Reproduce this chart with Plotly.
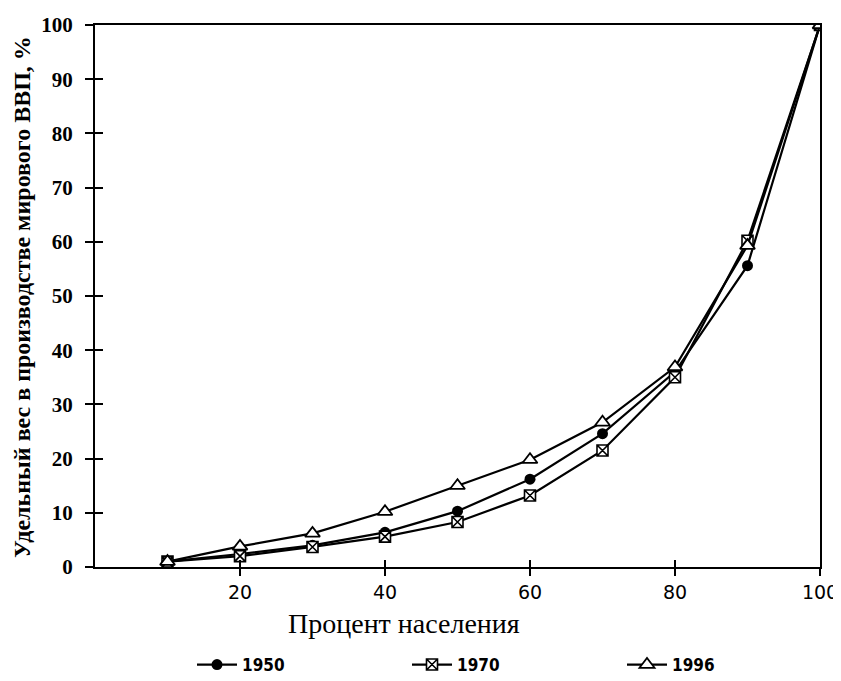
import plotly.graph_objects as go

x_pct = [10, 20, 30, 40, 50, 60, 70, 80, 90, 100]
y1950 = [1.0, 2.4, 4.0, 6.4, 10.3, 16.2, 24.6, 36.0, 55.6, 100]
y1970 = [1.0, 2.0, 3.7, 5.6, 8.3, 13.2, 21.5, 35.0, 60.2, 100]
y1996 = [1.0, 3.8, 6.2, 10.2, 15.0, 19.8, 26.7, 36.9, 59.3, 100]
series_names = ["1950", "1970", "1996"]
x_ticks = [20, 40, 60, 80, 100]
y_ticks = list(range(0, 101, 10))

# page body has an 8px margin; figure placed at (8, 8)
OFF = 8
W, H = 841 - OFF, 681 - OFF
PL, PR, PT, PB = 95 - OFF, 820 - OFF, 25 - OFF, 567 - OFF
PW, PH = PR - PL, PB - PT

fig = go.Figure()
fig.add_trace(go.Scatter(x=x_pct, y=y1950, name=series_names[0], mode="lines+markers",
                         line=dict(color="black", width=2.2),
                         marker=dict(symbol="circle", size=11, color="black")))
fig.add_trace(go.Scatter(x=x_pct, y=y1970, name=series_names[1], mode="lines+markers",
                         line=dict(color="black", width=2.2),
                         marker=dict(symbol="square-x", size=11, color="white",
                                     line=dict(color="black", width=1.6))))
fig.add_trace(go.Scatter(x=x_pct, y=y1996, name=series_names[2], mode="lines+markers",
                         line=dict(color="black", width=2.2),
                         marker=dict(symbol="triangle-up", size=13, color="white",
                                     line=dict(color="black", width=1.8))))

fig.update_layout(
    width=W, height=H,
    margin=dict(l=PL, r=W - PR, t=PT, b=H - PB, autoexpand=False),
    paper_bgcolor="white", plot_bgcolor="white",
    showlegend=True,
    legend=dict(orientation="h", xref="container", x=(192 - OFF) / W, xanchor="left",
                y=-(665 - 567) / PH, yanchor="middle",
                entrywidth=160, entrywidthmode="pixels",
                font=dict(family="DejaVu Sans Condensed, Liberation Sans, Arial", size=17,
                          color="black", weight="bold"),
                itemwidth=40),
    xaxis=dict(range=[0, 100], tickmode="array", tickvals=x_ticks,
               ticktext=[str(v) for v in x_ticks], automargin=False,
               showgrid=False, zeroline=False,
               showline=True, linecolor="black", linewidth=2, mirror=True,
               ticks="outside", ticklen=7, tickwidth=1.5, tickcolor="black",
               tickfont=dict(family="DejaVu Sans, Liberation Sans", size=19, color="black")),
    yaxis=dict(range=[0, 100], tickmode="array", tickvals=y_ticks, automargin=False,
               showgrid=False, zeroline=False,
               showline=True, linecolor="black", linewidth=2, mirror=True,
               ticks="outside", ticklen=8, tickwidth=1.5, tickcolor="black",
               ticklabelstandoff=8,
               tickfont=dict(family="Liberation Serif, Times New Roman", size=21,
                             color="black", weight="bold")),
    annotations=[
        dict(text="Процент населения", xref="paper", yref="paper",
             x=(404 - 95) / PW, y=-(623 - 567) / PH,
             xanchor="center", yanchor="middle", showarrow=False,
             font=dict(family="Liberation Serif, Times New Roman", size=28, color="black")),
        dict(text="Удельный вес в производстве мирового ВВП, %", xref="paper", yref="paper",
             x=-(95 - 22) / PW, y=(567 - 297) / PH, textangle=-90,
             xanchor="center", yanchor="middle", showarrow=False,
             font=dict(family="Liberation Serif, Times New Roman", size=24,
                       color="black", weight="bold")),
    ],
)

# inner tick marks to mimic crossing ticks
fig.update_layout(
    xaxis2=dict(overlaying="x", range=[0, 100], tickmode="array", tickvals=[0] + x_ticks,
                showticklabels=False, ticks="inside", ticklen=7, tickwidth=1.5,
                tickcolor="black", showgrid=False, zeroline=False, showline=False,
                side="bottom", automargin=False),
    yaxis2=dict(overlaying="y", range=[0, 100], tickmode="array", tickvals=y_ticks,
                showticklabels=False, ticks="inside", ticklen=8, tickwidth=1.5,
                tickcolor="black", showgrid=False, zeroline=False, showline=False,
                side="left", automargin=False),
)
fig.add_trace(go.Scatter(x=[None], y=[None], xaxis="x2", yaxis="y2",
                         showlegend=False, hoverinfo="skip"))

fig.write_html("out.html")
